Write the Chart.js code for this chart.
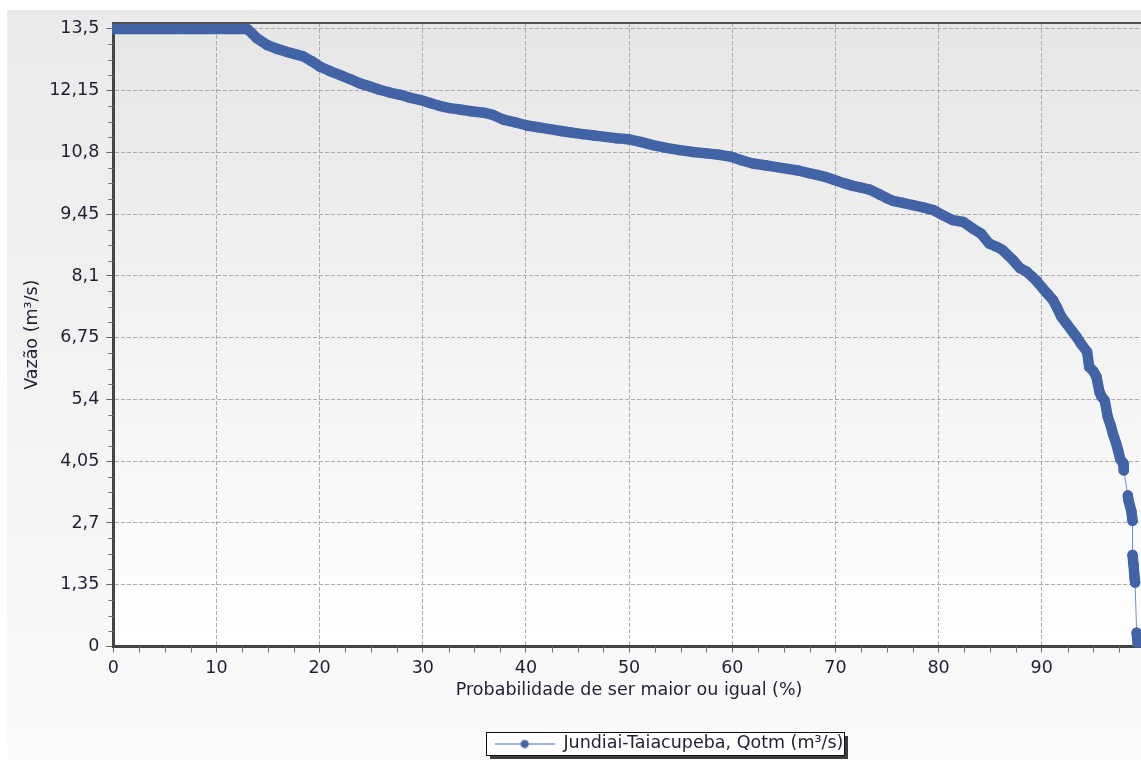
<!DOCTYPE html>
<html>
<head>
<meta charset="utf-8">
<script src="https://cdn.jsdelivr.net/npm/chart.js@4.4.1/dist/chart.umd.min.js"></script>
<style>
    html, body { margin: 0; padding: 0; background: #fff; overflow: hidden; }
    #frame {
        position: absolute; left: 7px; top: 10px; width: 1324px; height: 754px;
        background: linear-gradient(#eaeaea, #fbfbfb);
    }
</style>
</head>
<body>
<div id="frame"><canvas id="curveChart"></canvas></div>
<script>
const seriesLabel = 'Jundiai-Taiacupeba, Qotm (m³/s)';

// probability of being exceeded (%)
const probPct = [
    0, 1, 2, 3, 4, 5, 6, 7, 8, 9, 10, 11, 12, 13,
    13.9, 14.9, 15.8, 16.8, 17.6, 18.4, 19.2,
    20.0, 21.0, 22.0, 23.0, 23.9, 24.9, 25.8, 26.8, 27.8, 28.7, 29.7,
    30.7, 31.6, 32.6, 33.6, 34.7, 35.9, 36.8, 37.8, 39.1,
    40.1, 41.2, 42.3, 43.4, 44.5, 45.5, 46.6, 47.7, 48.8, 49.9,
    51.1, 52.3, 53.6, 54.9, 56.2, 57.5, 58.7, 59.8,
    60.9, 62.0, 63.2, 64.3, 65.4, 66.5, 67.4, 68.2, 69.1, 69.9,
    70.8, 71.7, 72.5, 73.3, 74.3, 75.0, 75.6, 76.5, 77.5, 78.5, 79.5,
    80.4, 81.4, 82.4, 83.3, 84.1, 84.9, 85.6, 86.2, 87.2, 87.9, 88.5, 89.1, 89.5,
    90.1, 90.6, 91.1, 91.5, 91.9, 92.4, 92.9, 93.4, 93.8, 94.4, 94.6, 95.0,
    95.3, 95.6, 95.8, 96.1, 96.4, 96.7, 96.9, 97.2, 97.4, 97.6, 97.9, 97.95,
    98.35, 98.4, 98.7, 98.8, 98.8, 98.9, 99.0, 99.05, 99.2, 99.3
];

// flow (m3/s)
const flowM3s = [
    13.5, 13.5, 13.5, 13.5, 13.5, 13.5, 13.5, 13.5, 13.5, 13.5, 13.5, 13.5, 13.5, 13.5,
    13.3, 13.15, 13.07, 13.0, 12.95, 12.9, 12.8,
    12.68, 12.58, 12.49, 12.4, 12.31, 12.24, 12.17, 12.11, 12.06, 12.0, 11.95,
    11.88, 11.82, 11.77, 11.74, 11.7, 11.67, 11.62, 11.52, 11.45,
    11.39, 11.35, 11.31, 11.27, 11.23, 11.2, 11.17, 11.14, 11.11, 11.09,
    11.03, 10.96, 10.9, 10.85, 10.81, 10.78, 10.75, 10.71,
    10.63, 10.56, 10.52, 10.48, 10.44, 10.4, 10.35, 10.31, 10.26, 10.2,
    10.13, 10.07, 10.03, 9.99, 9.88, 9.8, 9.74, 9.7, 9.65, 9.6, 9.54,
    9.43, 9.32, 9.28, 9.14, 9.03, 8.81, 8.74, 8.67, 8.45, 8.27, 8.2, 8.08, 7.99,
    7.83, 7.7, 7.57, 7.4, 7.21, 7.06, 6.91, 6.76, 6.62, 6.44, 6.11, 6.02,
    5.9, 5.56, 5.46, 5.38, 5.02, 4.82, 4.65, 4.45, 4.29, 4.1, 4.0, 3.85,
    3.3, 3.2, 2.95, 2.75, 2.0, 1.78, 1.5, 1.4, 0.3, 0.07
];

const yTickValues = [0, 1.35, 2.7, 4.05, 5.4, 6.75, 8.1, 9.45, 10.8, 12.15, 13.5];
const xTickValues = [0, 10, 20, 30, 40, 50, 60, 70, 80, 90];

const markColor = '#4264a6';
const thinColor = '#6f8fcf';
const textColor = '#1f1f33';
const gridColor = '#ababab';
const axisColor = '#454545';

Chart.defaults.font.family = "'DejaVu Sans', Tahoma, sans-serif";
Chart.defaults.font.size = 17.5;
Chart.defaults.color = textColor;

// legend marker: short line with a dot in the middle
const legendMarker = document.createElement('canvas');
legendMarker.width = 60;
legendMarker.height = 10;
(function () {
    const c = legendMarker.getContext('2d');
    c.strokeStyle = markColor;
    c.lineWidth = 1;
    c.beginPath();
    c.moveTo(0, 5.5);
    c.lineTo(60, 5.5);
    c.stroke();
    c.fillStyle = markColor;
    c.beginPath();
    c.arc(30, 5.5, 4, 0, Math.PI * 2);
    c.fill();
})();

// close points merge into a thick band, far apart ones keep the thin line
function isDense(c) {
    return Math.hypot(c.p1.x - c.p0.x, c.p1.y - c.p0.y) < 21;
}

const frameDecor = {
    id: 'frameDecor',
    beforeDraw(chart) {
        const { ctx, chartArea: a } = chart;
        ctx.save();
        const g = ctx.createLinearGradient(0, a.top, 0, a.bottom);
        g.addColorStop(0, '#e6e6e6');
        g.addColorStop(1, '#ffffff');
        ctx.fillStyle = g;
        ctx.fillRect(a.left, a.top, a.right - a.left, a.bottom - a.top);

        // legend frame with shadow
        const hb = chart.legend && chart.legend.legendHitBoxes[0];
        if (hb) {
            const cy = hb.top + hb.height / 2;
            const x0 = Math.round(hb.left - 9), x1 = Math.round(hb.left + hb.width + 1);
            const y0 = Math.round(cy - 11.5), y1 = Math.round(cy + 11.5);
            ctx.fillStyle = '#3c3c3c';
            ctx.fillRect(x0 + 4, y0 + 4, x1 - x0, y1 - y0);
            ctx.fillStyle = '#ffffff';
            ctx.fillRect(x0, y0, x1 - x0, y1 - y0);
            ctx.strokeStyle = '#111111';
            ctx.lineWidth = 1;
            ctx.strokeRect(x0 + 0.5, y0 + 0.5, x1 - x0, y1 - y0);
        }
        ctx.restore();
    },
    afterDraw(chart) {
        const { ctx, chartArea: a, scales: { x, y } } = chart;
        ctx.save();
        ctx.strokeStyle = '#707070';
        ctx.lineWidth = 1;
        ctx.beginPath();
        for (let i = 0; i < yTickValues.length - 1; i++) {
            const step = (yTickValues[i + 1] - yTickValues[i]) / 4;
            for (let k = 1; k < 4; k++) {
                const py = Math.round(y.getPixelForValue(yTickValues[i] + k * step)) + 0.5;
                ctx.moveTo(a.left - 5, py);
                ctx.lineTo(a.left, py);
            }
        }
        const xStep = (xTickValues[1] - xTickValues[0]) / 4;
        xTickValues.forEach(v => {
            for (let k = 1; k < 4; k++) {
                const px = Math.round(x.getPixelForValue(v + k * xStep)) + 0.5;
                ctx.moveTo(px, a.bottom);
                ctx.lineTo(px, a.bottom + 6);
            }
        });
        ctx.stroke();

        // top frame line
        ctx.strokeStyle = '#505050';
        ctx.lineWidth = 2;
        ctx.beginPath();
        ctx.moveTo(a.left, a.top);
        ctx.lineTo(a.right, a.top);
        ctx.stroke();
        ctx.restore();
    }
};

new Chart(document.getElementById('curveChart'), {
    type: 'line',
    data: {
        datasets: [{
            label: seriesLabel,
            data: probPct.map((p, i) => ({ x: p, y: flowM3s[i] })),
            borderColor: markColor,
            backgroundColor: markColor,
            pointBackgroundColor: markColor,
            pointBorderWidth: 0,
            pointRadius: 5.2,
            borderCapStyle: 'round',
            borderJoinStyle: 'round',
            tension: 0,
            clip: 1,
            segment: {
                borderWidth: c => isDense(c) ? 10.5 : 1,
                borderColor: c => isDense(c) ? markColor : thinColor
            }
        }]
    },
    options: {
        responsive: true,
        maintainAspectRatio: false,
        animation: false,
        layout: { padding: { top: 13, left: 0, right: 0, bottom: 1.75 } },
        plugins: {
            legend: {
                position: 'bottom',
                labels: {
                    usePointStyle: true,
                    pointStyle: legendMarker,
                    pointStyleWidth: 60,
                    padding: 6,
                    color: textColor
                }
            },
            tooltip: { enabled: false }
        },
        scales: {
            x: {
                type: 'linear',
                min: 0,
                max: 100,
                afterBuildTicks: s => { s.ticks = xTickValues.map(v => ({ value: v })); },
                afterFit: s => { s.height = 82.25; s.paddingLeft = 0; s.paddingRight = 0; },
                ticks: { padding: 5, maxRotation: 0, autoSkip: false },
                grid: { color: gridColor, tickColor: '#666', tickLength: 6 },
                border: { color: axisColor, width: 3, dash: [4, 2] },
                title: {
                    display: true,
                    text: 'Probabilidade de ser maior ou igual (%)',
                    padding: { top: 0, bottom: 28.25 }
                }
            },
            y: {
                type: 'linear',
                min: 0,
                max: 13.63,
                afterBuildTicks: s => { s.ticks = yTickValues.map(v => ({ value: v })); },
                afterFit: s => { s.width = 106.3; s.paddingTop = 0; s.paddingBottom = 0; },
                ticks: {
                    padding: 7,
                    callback: v => String(v).replace('.', ',')
                },
                grid: { color: gridColor, tickColor: '#666', tickLength: 7 },
                border: { color: axisColor, width: 3, dash: [4, 2] },
                title: {
                    display: true,
                    text: 'Vazão (m³/s)',
                    padding: { top: 14.5, bottom: 0 }
                }
            },
            pad: {
                type: 'linear',
                position: 'right',
                display: true,
                grid: { display: false },
                ticks: { display: false },
                border: { display: false },
                afterFit: s => { s.width = 186.1; s.paddingTop = 0; s.paddingBottom = 0; }
            }
        }
    },
    plugins: [frameDecor]
});
</script>
</body>
</html>
